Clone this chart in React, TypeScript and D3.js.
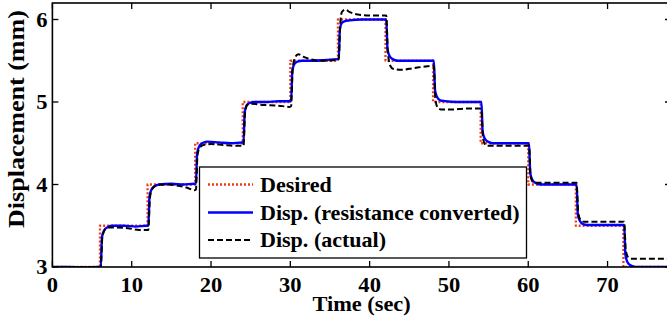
import React from 'react';
import * as d3 from 'd3';

// [time (sec), displacement (mm)]
const desired: [number, number][] = [
  [0, 3], [6, 3], [6, 3.5], [12, 3.5], [12, 4], [18, 4], [18, 4.5], [24, 4.5],
  [24, 5], [30, 5], [30, 5.5], [36, 5.5], [36, 6], [42, 6], [42, 5.5], [48, 5.5],
  [48, 5], [54, 5], [54, 4.5], [60, 4.5], [60, 4], [66, 4], [66, 3.5], [72, 3.5],
  [72, 3], [78, 3],
];

const resistanceConverted: [number, number][] = [
  [0, 3], [2, 3.0], [4, 2.995], [5.9, 3.0],
  [6.1, 3.0], [6.25, 3.36], [6.5, 3.44], [6.9, 3.48], [7.5, 3.5], [9, 3.5], [10.5, 3.49], [11.9, 3.5],
  [12.1, 3.5], [12.25, 3.86], [12.5, 3.94], [12.9, 3.98], [13.5, 4.0], [15, 4.01], [16.5, 4.0], [17.9, 4.01],
  [18.1, 4.01], [18.25, 4.38], [18.5, 4.46], [18.9, 4.5], [19.5, 4.52], [21, 4.51], [22.5, 4.5], [23.9, 4.51],
  [24.1, 4.51], [24.25, 4.88], [24.5, 4.96], [24.9, 4.99], [25.5, 5.0], [27, 5.0], [28.5, 5.01], [29.9, 5.01],
  [30.1, 5.01], [30.25, 5.38], [30.5, 5.46], [30.9, 5.49], [31.5, 5.5], [33, 5.5], [34.5, 5.51], [35.9, 5.52],
  [36.1, 5.52], [36.25, 5.88], [36.5, 5.96], [36.9, 5.98], [37.5, 5.99], [39, 6.0], [40.5, 6.0], [41.9, 6.0],
  [42.1, 6.0], [42.25, 5.64], [42.5, 5.56], [42.9, 5.52], [43.5, 5.5], [45, 5.5], [46.5, 5.5], [47.9, 5.5],
  [48.1, 5.5], [48.25, 5.14], [48.5, 5.06], [48.9, 5.02], [49.5, 5.01], [51, 5.0], [52.5, 5.0], [53.9, 5.0],
  [54.1, 5.0], [54.25, 4.64], [54.5, 4.56], [54.9, 4.52], [55.5, 4.5], [57, 4.5], [58.5, 4.5], [59.9, 4.5],
  [60.1, 4.5], [60.25, 4.14], [60.5, 4.06], [60.9, 4.02], [61.5, 4.0], [63, 4.0], [64.5, 4.0], [65.9, 4.0],
  [66.1, 4.0], [66.25, 3.64], [66.5, 3.56], [66.9, 3.52], [67.5, 3.51], [69, 3.51], [70.5, 3.51], [71.9, 3.51],
  [72.1, 3.51], [72.25, 3.15], [72.5, 3.06], [72.9, 3.02], [73.5, 3.0], [75, 3.0], [76.5, 3.0], [78, 3.0],
];

const actual: [number, number][] = [
  [0, 3], [5.9, 3.0],
  [6.1, 3.0], [6.3, 3.36], [6.6, 3.45], [7.1, 3.48], [8, 3.48], [9.5, 3.47], [11, 3.45], [11.9, 3.45],
  [12.1, 3.45], [12.3, 3.84], [12.6, 3.95], [13.1, 3.99], [14, 4.0], [15.5, 3.99], [17, 3.96], [17.9, 3.93],
  [18.1, 3.94], [18.3, 4.36], [18.6, 4.45], [19.1, 4.48], [20, 4.49], [21.5, 4.48], [23, 4.47], [23.9, 4.47],
  [24.1, 4.47], [24.3, 4.88], [24.6, 4.97], [25.1, 4.98], [26, 4.97], [27.5, 4.96], [29, 4.95], [29.9, 4.94],
  [30.1, 4.95], [30.3, 5.4], [30.6, 5.54], [31, 5.58], [31.6, 5.55], [32.5, 5.52], [34, 5.5], [35.9, 5.51],
  [36.1, 5.52], [36.3, 5.95], [36.5, 6.09], [36.9, 6.12], [37.5, 6.09], [38.5, 6.06], [40, 6.05], [41.9, 6.05],
  [42.1, 6.05], [42.3, 5.6], [42.6, 5.44], [43, 5.4], [44, 5.39], [45.5, 5.41], [47, 5.43], [47.9, 5.44],
  [48.1, 5.43], [48.3, 5.02], [48.6, 4.93], [49, 4.91], [50.5, 4.91], [52, 4.92], [53.9, 4.92],
  [54.1, 4.91], [54.3, 4.56], [54.6, 4.48], [55, 4.47], [56.5, 4.47], [58, 4.47], [59.9, 4.47],
  [60.1, 4.47], [60.3, 4.1], [60.6, 4.03], [61, 4.02], [62.5, 4.02], [64, 4.02], [65.9, 4.02],
  [66.1, 4.02], [66.3, 3.66], [66.6, 3.57], [67, 3.55], [68.5, 3.55], [70, 3.55], [71.9, 3.55],
  [72.1, 3.55], [72.3, 3.2], [72.6, 3.12], [73, 3.1], [74.5, 3.1], [76, 3.1], [78, 3.1],
];

const xTicks = [0, 10, 20, 30, 40, 50, 60, 70];
const yTicks = [3, 4, 5, 6];
const legendLabels = ['Desired', 'Disp. (resistance converted)', 'Disp. (actual)'];

const W = 667;
const H = 323;
const margin = { top: 3, right: -4, bottom: 56, left: 52.4 };

export default function App() {
  const x = d3.scaleLinear().domain([0, 78]).range([margin.left, W - margin.right]);
  const y = d3.scaleLinear().domain([3, 6.2]).range([H - margin.bottom, margin.top]);

  const stepLine = d3.line<[number, number]>().x(d => x(d[0])).y(d => y(d[1]));
  const smoothLine = d3.line<[number, number]>()
    .x(d => x(d[0]))
    .y(d => y(d[1]))
    .curve(d3.curveMonotoneX);

  const x0 = x.range()[0], x1 = x.range()[1];
  const y0 = y.range()[0], y1 = y.range()[1];
  const tick = 6;

  const styles = [
    { stroke: '#ee3d1c', dash: '2,2', width: 2.3 },
    { stroke: '#0000ff', dash: undefined, width: 2.4 },
    { stroke: '#000000', dash: '6,3', width: 2 },
  ];

  const legend = { x: 199.5, y: 167, w: 327, h: 91, rows: [184.5, 212.5, 240] };
  const txt = { fontFamily: "'Liberation Serif'", fontWeight: 700 };

  return (
    <svg width={W} height={H} style={{ position: 'absolute', left: 0, top: 0, background: '#fff' }}>
      <defs>
        <clipPath id="plot">
          <rect x={x0} y={y1} width={x1 - x0} height={y0 - y1} />
        </clipPath>
      </defs>

      <g clipPath="url(#plot)" fill="none" strokeLinejoin="round">
        <path d={stepLine(desired) || ''} stroke={styles[0].stroke} strokeWidth={styles[0].width} strokeDasharray={styles[0].dash} />
        <path d={smoothLine(resistanceConverted) || ''} stroke={styles[1].stroke} strokeWidth={styles[1].width} />
        <path d={smoothLine(actual) || ''} stroke={styles[2].stroke} strokeWidth={styles[2].width} strokeDasharray={styles[2].dash} />
      </g>

      {/* axes box with inward ticks */}
      <g stroke="#000" strokeWidth={1.3}>
        {xTicks.map(t => (
          <g key={'xt' + t}>
            <line x1={x(t)} x2={x(t)} y1={y0} y2={y0 - tick} />
            <line x1={x(t)} x2={x(t)} y1={y1} y2={y1 + tick} />
          </g>
        ))}
        {yTicks.map(t => (
          <g key={'yt' + t}>
            <line x1={x0} x2={x0 + tick} y1={y(t)} y2={y(t)} />
            <line x1={x1} x2={x1 - tick} y1={y(t)} y2={y(t)} />
          </g>
        ))}
        <rect x={x0} y={y1} width={x1 - x0} height={y0 - y1} fill="none" strokeWidth={1.6} />
      </g>

      {xTicks.map(t => (
        <text key={'xl' + t} transform={`translate(${x(t)},292) scale(1.1,1)`} textAnchor="middle"
          style={{ ...txt, fontSize: 20.5 }}>{t}</text>
      ))}
      {yTicks.map(t => (
        <text key={'yl' + t} transform={`translate(${x0 - 5},${y(t)}) scale(1.1,1)`} dy="0.35em" textAnchor="end"
          style={{ ...txt, fontSize: 20.5 }}>{t}</text>
      ))}

      <text transform={`translate(${(x0 + 670.7) / 2},311) scale(1.04,1)`} textAnchor="middle"
        style={{ ...txt, fontSize: 21.5 }}>Time (sec)</text>
      <text transform="translate(23.5,119) rotate(-90)" textAnchor="middle" style={{ ...txt, fontSize: 23 }}
        textLength={218} lengthAdjust="spacingAndGlyphs">Displacement (mm)</text>

      <rect x={legend.x} y={legend.y} width={legend.w} height={legend.h} fill="#fff" stroke="#000" strokeWidth={1.3} />
      {legendLabels.map((label, i) => (
        <g key={label}>
          <line x1={208} x2={253} y1={legend.rows[i]} y2={legend.rows[i]}
            stroke={styles[i].stroke} strokeWidth={styles[i].width} strokeDasharray={styles[i].dash} />
          <text transform={`translate(260,${legend.rows[i]}) scale(1.05,1)`} dy="0.35em"
            style={{ ...txt, fontSize: 21 }}>{label}</text>
        </g>
      ))}
    </svg>
  );
}
